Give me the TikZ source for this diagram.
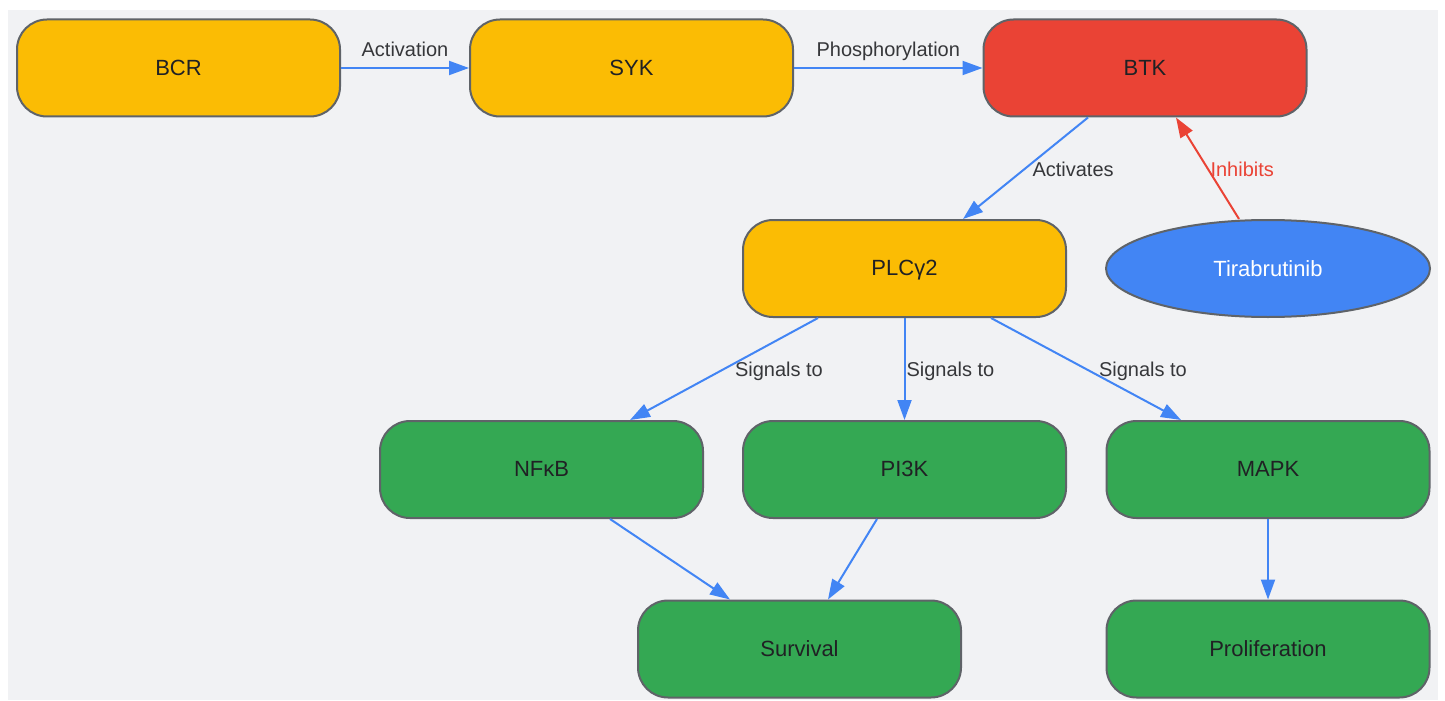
\documentclass[tikz,border=0pt]{standalone}
\usepackage{fontspec}
\setmainfont{Liberation Sans}
\usetikzlibrary{arrows.meta,shapes.geometric}
\definecolor{bgcol}{HTML}{F1F2F4}
\definecolor{yellowfill}{HTML}{FBBC04}
\definecolor{redfill}{HTML}{EA4335}
\definecolor{greenfill}{HTML}{34A853}
\definecolor{bluefill}{HTML}{4285F4}
\definecolor{bordercol}{HTML}{5F6368}
\definecolor{textcol}{HTML}{202124}
\definecolor{edgecol}{HTML}{4285F4}
\tikzset{
  box/.style={draw=bordercol, line width=1pt, rounded corners=15pt,
    minimum width=161.5pt, minimum height=48.5pt, font=\fontsize{11}{13}\selectfont,
    text=textcol, text height=0.72em, text depth=0pt},
  drug/.style={ellipse, draw=bordercol, line width=1pt, fill=bluefill,
    minimum width=162pt, minimum height=48.5pt, inner sep=0pt,
    font=\fontsize{11}{13}\selectfont, text=white},
  link/.style={draw=edgecol, line width=1pt, -{Triangle[length=10pt,width=7pt]}},
  lbl/.style={font=\fontsize{10}{12}\selectfont, text=textcol!90, inner sep=2pt,
    text height=0.72em, text depth=0.21em}
}
\begin{document}
\begin{tikzpicture}[x=0.5pt, y=-0.5pt]
\useasboundingbox (0,0) rectangle (1445,701);
\fill [bgcol] (8,10) rectangle (1438,700);
% first row
\node [box, fill=yellowfill] (bcr) at (178.5,68) {BCR};
\node [box, fill=yellowfill] (syk) at (631.5,68) {SYK};
\node [box, fill=redfill] (btk) at (1145,68) {BTK};
% second row
\node [box, fill=yellowfill] (plc) at (904.5,268.5) {PLCγ2};
\node [drug] (tira) at (1268,268.5) {Tirabrutinib};
% third row
\node [box, fill=greenfill] (nfkb) at (541.5,469.5) {NFκB};
\node [box, fill=greenfill] (pik) at (904.5,469.5) {PI3K};
\node [box, fill=greenfill] (mapk) at (1268,469.5) {MAPK};
% outcomes
\node [box, fill=greenfill] (surv) at (799.5,649) {Survival};
\node [box, fill=greenfill] (prol) at (1268,649) {Proliferation};
% edges
\draw [link] (bcr) -- node [lbl, above=1pt] {Activation} (syk);
\draw [link] (syk) -- node [lbl, above=1pt] {Phosphorylation} (btk);
\draw [link] ([xshift=-28.5pt]btk.south) -- node [lbl, right=1pt, yshift=-1.5pt] {Activates} ([xshift=29.25pt]plc.north);
\draw [link, draw=redfill, -{Triangle[length=10pt,width=7pt]}] ([xshift=-14.5pt]tira.north) -- node [lbl, right=-1pt, yshift=-1.5pt, text=redfill] {Inhibits} ([xshift=15.5pt]btk.south);
\draw [link] ([xshift=-43.25pt]plc.south) -- node [lbl, right=3pt, yshift=-1pt] {Signals to} ([xshift=44.25pt]nfkb.north);
\draw [link] (plc) -- node [lbl, right=-1.5pt, yshift=-1pt] {Signals to} (pik);
\draw [link] ([xshift=43.25pt]plc.south) -- node [lbl, right=4pt, yshift=-1pt] {Signals to} ([xshift=-43.5pt]mapk.north);
\draw [link] ([xshift=34.25pt]nfkb.south) -- ([xshift=-34.75pt]surv.north);
\draw [link] ([xshift=-13.75pt]pik.south) -- ([xshift=14.25pt]surv.north);
\draw [link] (mapk) -- (prol);
\end{tikzpicture}
\end{document}
